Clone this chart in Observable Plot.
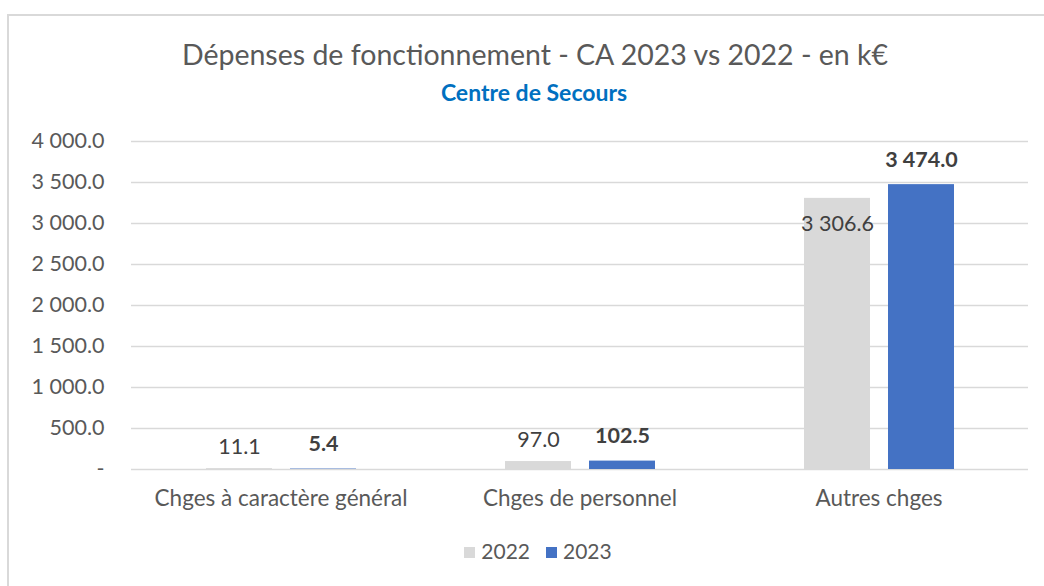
<!DOCTYPE html>
<html>
<head>
<meta charset="utf-8">
<script src="https://cdn.jsdelivr.net/npm/d3@7"></script>
<script src="https://cdn.jsdelivr.net/npm/@observablehq/plot@0.6"></script>
<style>
  html, body { margin: 0; padding: 0; background: #fff; width: 1044px; height: 586px; overflow: hidden; font-family: Lato, "Open Sans", sans-serif; }
  #frame { position: absolute; left: 7px; top: 14px; width: 1050px; height: 600px; border-left: 2px solid #d9d9d9; border-top: 2px solid #d9d9d9; }
  #title { position: absolute; left: 0; width: 1070px; top: 37px; text-align: center; font-size: 28.5px; color: #595959; }
  #subtitle { position: absolute; left: 0; width: 1068px; top: 78px; text-align: center; font-size: 23px; font-weight: bold; color: #0070c0; }
  #chart { position: absolute; left: 0; top: 120px; }
  #legend { position: absolute; left: 0; width: 1076px; top: 538px; text-align: center; font-size: 21px; color: #595959; }
  #legend span.item { display: inline-block; margin: 0 8px; }
  #legend span.sw { display: inline-block; width: 11px; height: 11px; margin-right: 6px; vertical-align: 1px; }
</style>
</head>
<body>
<div id="frame"></div>
<div id="title">Dépenses de fonctionnement - CA 2023 vs 2022 - en k€</div>
<div id="subtitle">Centre de Secours</div>
<div id="chart"></div>
<div id="legend"></div>
<script>
const categories = ["Chges à caractère général", "Chges de personnel", "Autres chges"];
const years = ["2022", "2023"];
const values2022 = [11.1, 97.0, 3306.6];
const values2023 = [5.4, 102.5, 3474.0];
const yTicks = [0, 500, 1000, 1500, 2000, 2500, 3000, 3500, 4000];
const colors = ["#d9d9d9", "#4472c4"];

const data = [];
categories.forEach((c, i) => {
  data.push({category: c, year: years[0], value: values2022[i]});
  data.push({category: c, year: years[1], value: values2023[i]});
});

const fmt = v => v === 0 ? "-" : d3.format(",.1f")(v).replace(/,/g, " ");

const chart = Plot.plot({
  width: 1044,
  height: 400,
  marginLeft: 130,
  marginRight: 16,
  marginTop: 21,
  marginBottom: 51,
  style: {fontFamily: "Lato, 'Open Sans', sans-serif", background: "transparent"},
  fx: {domain: categories, padding: 0, label: null},
  x: {domain: years, paddingInner: 0.215, paddingOuter: 0.87, axis: null},
  y: {domain: [0, 4000], label: null},
  color: {domain: years, range: colors},
  marks: [
    Plot.gridY(yTicks, {stroke: "#d9d9d9", strokeOpacity: 1, strokeWidth: 1.5}),
    Plot.axisY(yTicks, {tickSize: 0, tickPadding: 27, tickFormat: fmt, fontSize: 21.5, fill: "#595959", label: null}),
    Plot.axisFx({anchor: "bottom", tickSize: 0, tickPadding: 21, fontSize: 22.5, fill: "#595959", label: null}),
    Plot.barY(data, {fx: "category", x: "year", y: "value", fill: "year"}),
    Plot.text(data, {filter: d => d.year === "2022" && d.value > 1000, fx: "category", x: "year", y: "value", text: d => fmt(d.value), dy: 26, fontSize: 21.5, fill: "#404040"}),
    Plot.text(data, {filter: d => d.year === "2022" && d.value <= 1000, fx: "category", x: "year", y: "value", text: d => fmt(d.value), dy: -21, fontSize: 21.5, fill: "#404040"}),
    Plot.text(data, {filter: d => d.year === "2023", fx: "category", x: "year", y: "value", text: d => fmt(d.value), dy: -25, fontSize: 21.5, fontWeight: "bold", fill: "#404040"})
  ]
});
document.getElementById("chart").appendChild(chart);

const legend = document.getElementById("legend");
years.forEach((y, i) => {
  const item = document.createElement("span");
  item.className = "item";
  const sw = document.createElement("span");
  sw.className = "sw";
  sw.style.background = colors[i];
  item.appendChild(sw);
  item.appendChild(document.createTextNode(y));
  legend.appendChild(item);
});
</script>
</body>
</html>
